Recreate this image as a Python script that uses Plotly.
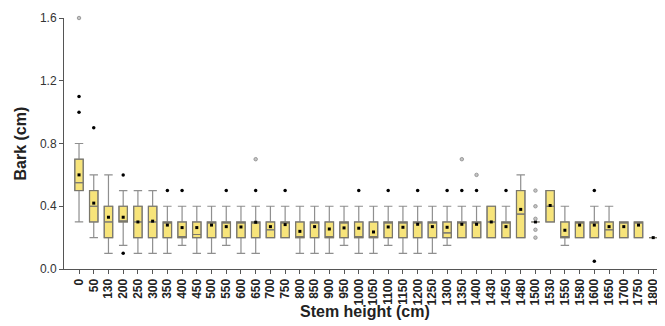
import plotly.graph_objects as go

categories = ["0", "50", "130", "200", "250", "300", "350", "400", "450", "500",
              "550", "600", "650", "700", "750", "800", "850", "900", "950", "1000",
              "1050", "1100", "1150", "1200", "1250", "1300", "1350", "1400", "1430", "1450",
              "1480", "1500", "1530", "1550", "1580", "1600", "1650", "1700", "1750", "1800"]

q1 = [0.5, 0.3, 0.2, 0.3, 0.2, 0.2, 0.2, 0.2, 0.2, 0.2,
      0.2, 0.2, 0.2, 0.2, 0.2, 0.2, 0.2, 0.2, 0.2, 0.2,
      0.2, 0.2, 0.2, 0.2, 0.2, 0.2, 0.2, 0.2, 0.2, 0.2,
      0.2, 0.3, 0.3, 0.2, 0.2, 0.2, 0.2, 0.2, 0.2, 0.2]
median = [0.55, 0.4, 0.3, 0.3, 0.3, 0.3, 0.3, 0.2, 0.22, 0.3,
          0.3, 0.3, 0.3, 0.25, 0.3, 0.2, 0.3, 0.2, 0.3, 0.2,
          0.2, 0.3, 0.3, 0.3, 0.3, 0.23, 0.3, 0.3, 0.3, 0.3,
          0.35, 0.3, 0.4, 0.2, 0.3, 0.3, 0.25, 0.3, 0.3, 0.2]
q3 = [0.7, 0.5, 0.4, 0.4, 0.4, 0.4, 0.3, 0.3, 0.3, 0.3,
      0.3, 0.3, 0.3, 0.3, 0.3, 0.3, 0.3, 0.3, 0.3, 0.3,
      0.3, 0.3, 0.3, 0.3, 0.3, 0.3, 0.3, 0.3, 0.4, 0.3,
      0.5, 0.3, 0.5, 0.3, 0.3, 0.3, 0.3, 0.3, 0.3, 0.2]
lower_whisker = [0.3, 0.2, 0.1, 0.15, 0.1, 0.1, 0.1, 0.15, 0.1, 0.1,
                 0.15, 0.1, 0.1, 0.2, 0.2, 0.1, 0.1, 0.1, 0.15, 0.1,
                 0.1, 0.15, 0.1, 0.1, 0.1, 0.15, 0.2, 0.2, 0.2, 0.2,
                 0.2, 0.3, 0.3, 0.15, 0.2, 0.2, 0.2, 0.2, 0.2, 0.2]
upper_whisker = [0.8, 0.6, 0.6, 0.5, 0.5, 0.5, 0.4, 0.4, 0.4, 0.4,
                 0.4, 0.4, 0.4, 0.4, 0.4, 0.4, 0.4, 0.4, 0.4, 0.4,
                 0.4, 0.4, 0.4, 0.4, 0.4, 0.4, 0.4, 0.4, 0.4, 0.4,
                 0.6, 0.3, 0.5, 0.4, 0.3, 0.4, 0.4, 0.3, 0.3, 0.2]
means = [0.6, 0.42, 0.33, 0.33, 0.30, 0.305, 0.28, 0.264, 0.264, 0.28,
         0.27, 0.268, 0.298, 0.27, 0.283, 0.24, 0.27, 0.255, 0.262, 0.26,
         0.236, 0.268, 0.266, 0.285, 0.27, 0.266, 0.285, 0.285, 0.30, 0.27,
         0.38, 0.30, 0.405, 0.247, 0.28, 0.28, 0.27, 0.27, 0.28, 0.20]

outlier_cats = ["0", "0", "50", "200", "200", "350", "400", "550", "650", "750",
                "1000", "1100", "1200", "1300", "1350", "1400", "1450", "1600", "1600"]
outlier_vals = [1.0, 1.1, 0.9, 0.6, 0.1, 0.5, 0.5, 0.5, 0.5, 0.5,
                0.5, 0.5, 0.5, 0.5, 0.5, 0.5, 0.5, 0.5, 0.05]

extreme_cats = ["0", "650", "1350", "1400", "1500", "1500", "1500", "1500", "1500"]
extreme_vals = [1.6, 0.7, 0.7, 0.6, 0.5, 0.4, 0.32, 0.25, 0.2]

y_ticks = [0.0, 0.4, 0.8, 1.2, 1.6]
y_tick_labels = ["0.0", "0.4", "0.8", "1.2", "1.6"]

fill = "#F7E47A"
whisker_col = "#8f8f8f"
box_col = "#7a776a"
FONT = "Liberation Sans, Arial, sans-serif"

fig = go.Figure()
fig.add_trace(go.Box(
    x=categories, q1=q1, median=median, q3=q3,
    lowerfence=lower_whisker, upperfence=upper_whisker,
    fillcolor=fill, line=dict(color=whisker_col, width=1.2),
    whiskerwidth=1, boxpoints=False, showlegend=False, hoverinfo="skip"))
fig.add_trace(go.Box(
    x=categories, q1=q1, median=median, q3=q3,
    lowerfence=q1, upperfence=q3,
    fillcolor="rgba(0,0,0,0)", line=dict(color=box_col, width=1.1),
    whiskerwidth=0, boxpoints=False, showlegend=False, hoverinfo="skip"))
fig.add_trace(go.Scatter(
    x=categories, y=means, mode="markers",
    marker=dict(symbol="square", size=3, color="black"),
    showlegend=False, cliponaxis=False))
fig.add_trace(go.Scatter(
    x=outlier_cats, y=outlier_vals, mode="markers",
    marker=dict(symbol="circle", size=3.5, color="black"),
    showlegend=False, cliponaxis=False))
fig.add_trace(go.Scatter(
    x=extreme_cats, y=extreme_vals, mode="markers",
    marker=dict(symbol="circle", size=3.5, color="#c4c4c4",
                line=dict(color="#8a8a8a", width=0.8)),
    showlegend=False, cliponaxis=False))

fig.update_layout(
    width=657, height=318,
    margin=dict(l=56, r=0, t=10, b=57, autoexpand=False),
    plot_bgcolor="white", paper_bgcolor="white",
    boxmode="overlay", boxgap=0.18,
    font=dict(family=FONT, color="#222"),
    annotations=[
        dict(text="<b>Stem height (cm)</b>", xref="paper", yref="paper",
             x=0.5, y=-0.171, xanchor="center", yanchor="middle",
             showarrow=False, font=dict(size=16, color="#222", family=FONT)),
        dict(text="<b>Bark (cm)</b>", xref="paper", yref="paper",
             x=(20 - 64) / 601, y=0.5, xanchor="center", yanchor="middle",
             textangle=-90, showarrow=False,
             font=dict(size=16, color="#222", family=FONT)),
    ],
)
fig.update_xaxes(
    type="category", categoryorder="array", categoryarray=categories,
    range=[-1.02, 39.8], automargin=False,
    showline=True, linecolor="#555", linewidth=1,
    ticks="outside", ticklen=4, tickcolor="#555",
    tickangle=-90, tickfont=dict(size=12, color="#222", family=FONT, weight="bold"),
    showgrid=False, zeroline=False,
)
fig.update_yaxes(
    range=[0, 1.6], tickvals=y_ticks, ticktext=y_tick_labels, automargin=False,
    showline=True, linecolor="#555", linewidth=1,
    ticks="outside", ticklen=4, tickcolor="#555",
    tickfont=dict(size=12, color="#333", family=FONT),
    showgrid=False, zeroline=False,
)

fig.write_html("out.html")
